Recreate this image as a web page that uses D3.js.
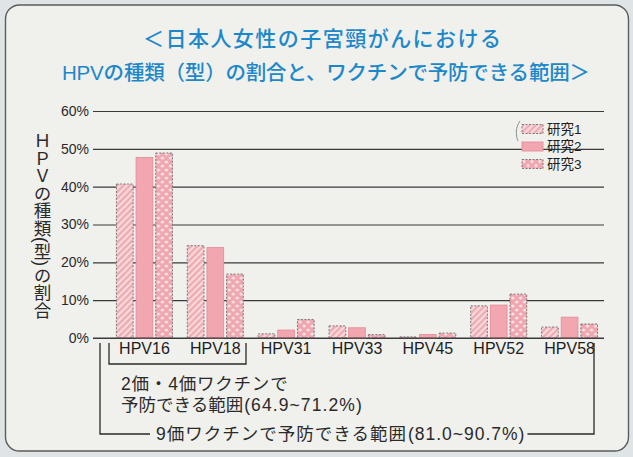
<!DOCTYPE html>
<html>
<head>
<meta charset="utf-8">
<script src="https://cdn.jsdelivr.net/npm/d3@7"></script>
<style>
  html, body { margin: 0; padding: 0; background: #dfe5e6; }
  svg { display: block; }
  text { font-family: "Liberation Sans", "Noto Sans CJK JP", sans-serif; }
</style>
</head>
<body>
<div id="chart"></div>
<script>
// data (percent)
const categories = ["HPV16", "HPV18", "HPV31", "HPV33", "HPV45", "HPV52", "HPV58"];
const studies = ["研究1", "研究2", "研究3"];
const study1 = [40.7, 24.4, 1.1, 3.2, 0.3, 8.5, 2.9];
const study2 = [47.7, 23.9, 2.1, 2.7, 0.9, 8.7, 5.5];
const study3 = [48.9, 16.9, 4.9, 0.9, 1.3, 11.6, 3.7];
const yTicks = [0, 10, 20, 30, 40, 50, 60];

const titleLines = ["＜日本人女性の子宮頸がんにおける", "HPVの種類（型）の割合と、ワクチンで予防できる範囲＞"];
const yTitle = "ＨＰＶの種類(型)の割合";
const note2 = ["2価・4価ワクチンで", "予防できる範囲", "(64.9~71.2%)"];
const note9 = ["9価ワクチンで予防できる範囲", "(81.0~90.7%)"];

const width = 633, height = 457;
const margin = {top: 111, right: 29, bottom: 119, left: 109};
const plotBottom = height - margin.bottom;
const gridLeft = 93, gridRight = 604;

const fills = ["url(#stripe)", "#f2a6af", "url(#dots)"];
const strokes = ["#707070", "#e48f9b", "#707070"];
const dashes = ["2,1.5", null, "2,1.5"];

const svg = d3.select("#chart").append("svg")
    .attr("width", width)
    .attr("height", height);

// patterns
const defs = svg.append("defs");
const stripe = defs.append("pattern")
    .attr("id", "stripe")
    .attr("patternUnits", "userSpaceOnUse")
    .attr("width", 4.5).attr("height", 4.5)
    .attr("patternTransform", "rotate(45)");
stripe.append("rect").attr("width", 4.5).attr("height", 4.5).attr("fill", "#f9dadd");
stripe.append("line")
    .attr("x1", 1.2).attr("y1", 0).attr("x2", 1.2).attr("y2", 4.5)
    .attr("stroke", "#eea8b0").attr("stroke-width", 2.2);

const dots = defs.append("pattern")
    .attr("id", "dots")
    .attr("patternUnits", "userSpaceOnUse")
    .attr("width", 8).attr("height", 8);
dots.append("rect").attr("width", 8).attr("height", 8).attr("fill", "#f0a6b0");
dots.append("circle").attr("cx", 2).attr("cy", 2).attr("r", 1.6).attr("fill", "#fbe6e8");
dots.append("circle").attr("cx", 6).attr("cy", 6).attr("r", 1.6).attr("fill", "#fbe6e8");

// paper frame
svg.append("rect")
    .attr("x", 5.5).attr("y", 5)
    .attr("width", 623).attr("height", 446)
    .attr("rx", 14)
    .attr("fill", "#f0f0ed")
    .attr("stroke", "#5c5c5c")
    .attr("stroke-width", 1.4);

// title
svg.selectAll("text.title")
    .data(titleLines)
    .enter()
    .append("text")
    .attr("class", "title")
    .attr("x", (d, i) => i === 0 ? 322 : 326)
    .attr("y", (d, i) => i === 0 ? 46 : 80)
    .attr("text-anchor", "middle")
    .attr("font-family", "'Noto Sans CJK JP', sans-serif")
    .attr("font-weight", 500)
    .attr("font-size", (d, i) => i === 0 ? 21 : 20.5)
    .attr("textLength", (d, i) => i === 0 ? 358 : 528)
    .attr("lengthAdjust", "spacing")
    .attr("fill", "#1d88c9")
    .text(d => d);

// scales
const x0 = d3.scaleBand()
    .domain(categories)
    .range([margin.left, width - margin.right + 1]);
const x1 = d3.scaleBand()
    .domain(studies)
    .range([0, 56])
    .paddingInner(0.15);
const y = d3.scaleLinear()
    .domain([0, 60])
    .range([plotBottom, margin.top]);

// y axis + grid
const yAxis = d3.axisLeft(y)
    .tickValues(yTicks)
    .tickSize(-(gridRight - gridLeft))
    .tickPadding(4)
    .tickFormat(d => d + "%");
const gy = svg.append("g")
    .attr("transform", "translate(" + gridLeft + ",0)")
    .call(yAxis);
gy.select(".domain").remove();
gy.selectAll(".tick line").attr("stroke", "#3a3a3a").attr("stroke-width", 1.1);
gy.selectAll(".tick text")
    .attr("font-size", 14)
    .attr("fill", "#2a2a2a")
    .attr("font-family", "'Liberation Sans', sans-serif");

// y title (vertical)
svg.append("text")
    .attr("x", 41)
    .attr("y", 132)
    .attr("font-size", 17.5)
    .attr("fill", "#2a2a2a")
    .style("writing-mode", "vertical-rl")
    .text(yTitle);

// bars
const seriesValues = [study1, study2, study3];
const groupOffset = (x0.bandwidth() - 56) / 2;
const group = svg.append("g").selectAll("g.group")
    .data(categories)
    .enter()
    .append("g")
    .attr("class", "group")
    .attr("transform", d => "translate(" + (x0(d) + groupOffset) + ",0)");

group.selectAll("rect")
    .data((d, i) => studies.map((s, j) => ({study: s, idx: j, value: seriesValues[j][i]})))
    .enter()
    .append("rect")
    .attr("x", d => x1(d.study))
    .attr("y", d => y(d.value))
    .attr("width", x1.bandwidth())
    .attr("height", d => y(0) - y(d.value))
    .attr("fill", d => fills[d.idx])
    .attr("stroke", d => strokes[d.idx])
    .attr("stroke-width", 0.9)
    .attr("stroke-dasharray", d => dashes[d.idx]);

// redraw baseline on top
svg.append("line")
    .attr("x1", gridLeft).attr("x2", gridRight)
    .attr("y1", y(0)).attr("y2", y(0))
    .attr("stroke", "#3a3a3a").attr("stroke-width", 1.1);

// x axis labels
const xAxis = d3.axisBottom(x0).tickSize(0).tickPadding(5);
const gx = svg.append("g")
    .attr("transform", "translate(0," + y(0) + ")")
    .call(xAxis);
gx.select(".domain").remove();
gx.selectAll(".tick text")
    .attr("font-size", 16)
    .attr("fill", "#1e1e1e")
    .attr("font-family", "'Liberation Sans', sans-serif");

// legend
const legend = svg.append("g").selectAll("g.legend")
    .data(studies)
    .enter()
    .append("g")
    .attr("class", "legend")
    .attr("transform", (d, i) => "translate(522," + (124.5 + i * 17.5) + ")");
legend.append("rect")
    .attr("width", 21).attr("height", 9)
    .attr("fill", (d, i) => fills[i])
    .attr("stroke", (d, i) => strokes[i])
    .attr("stroke-width", 0.9)
    .attr("stroke-dasharray", (d, i) => dashes[i]);
legend.append("text")
    .attr("x", 25).attr("y", 4.5)
    .attr("dy", "0.36em")
    .attr("font-size", 13.5)
    .attr("fill", "#1e1e1e")
    .text(d => d);
svg.append("path")
    .attr("d", "M520,121 C515.5,127 515.5,135 518,141")
    .attr("fill", "none").attr("stroke", "#777").attr("stroke-width", 0.8);

// brackets and notes
const ink = "#2a2a2a";
svg.append("path")
    .attr("d", "M109,343 V364 H246 V343")
    .attr("fill", "none").attr("stroke", ink).attr("stroke-width", 1.3);

svg.append("text")
    .attr("x", 121).attr("y", 390)
    .attr("font-size", 17.5).attr("fill", ink)
    .attr("letter-spacing", 0.8)
    .text(note2[0]);
const n2 = svg.append("text")
    .attr("x", 121).attr("y", 411)
    .attr("font-size", 17.5).attr("fill", ink);
n2.append("tspan").text(note2[1]);
n2.append("tspan").attr("dx", 1).attr("letter-spacing", 1.1).text(note2[2]);

const n9 = svg.append("text")
    .attr("x", 156).attr("y", 440)
    .attr("font-size", 17.5).attr("fill", ink)
    .attr("letter-spacing", 1);
n9.append("tspan").text(note9[0]);
n9.append("tspan").attr("dx", 1).text(note9[1]);
const n9End = 156 + n9.node().getComputedTextLength();

svg.append("path")
    .attr("d", "M100,343 V434 H150")
    .attr("fill", "none").attr("stroke", ink).attr("stroke-width", 1.3);
svg.append("path")
    .attr("d", "M" + (n9End + 3) + ",434 H594 V343")
    .attr("fill", "none").attr("stroke", ink).attr("stroke-width", 1.3);
</script>
</body>
</html>
